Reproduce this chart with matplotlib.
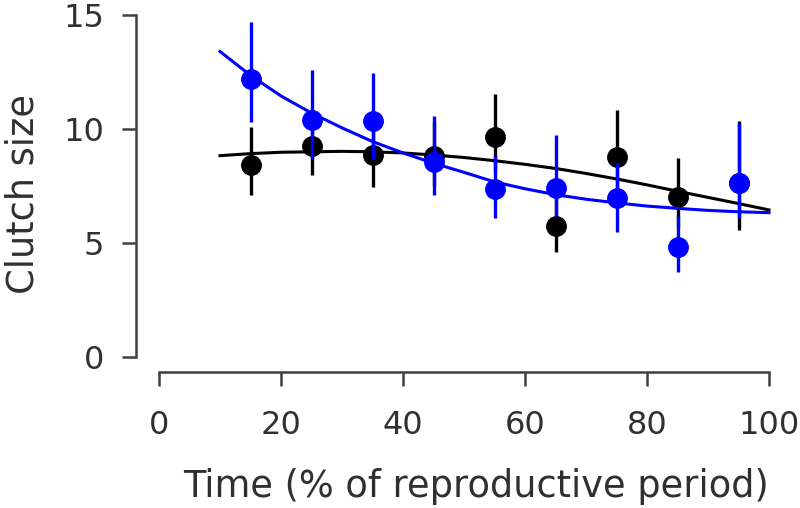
#!/usr/bin/env python3
"""Clutch size over the reproductive period: two groups with fitted curves."""

import matplotlib
matplotlib.use("Agg")
import matplotlib.pyplot as plt

# ── Data ─────────────────────────────────────────────────────────────────────
time_pts = [15, 25, 35, 45, 55, 65, 75, 85, 95]

black_mean = [8.4, 9.27, 8.86, 8.83, 9.66, 5.75, 8.76, 7.03, 7.65]
black_low = [7.1, 7.98, 7.47, 7.5, 8.1, 4.62, 7.2, 5.7, 5.57]
black_high = [10.1, 10.8, 10.5, 10.3, 11.52, 7.0, 10.83, 8.71, 10.35]

blue_mean = [12.2, 10.39, 10.37, 8.57, 7.35, 7.4, 6.96, 4.84, 7.62]
blue_low = [10.3, 8.7, 8.7, 7.1, 6.08, 6.2, 5.5, 3.74, 6.1]
blue_high = [14.7, 12.6, 12.47, 10.57, 8.8, 9.74, 8.5, 6.2, 10.28]

curve_x = [10, 15, 20, 25, 30, 35, 40, 45, 50, 55, 60, 65, 70, 75, 80, 85, 90, 95, 100]
black_curve = [8.83, 8.92, 8.98, 9.0, 9.02, 9.0, 8.95, 8.86, 8.75, 8.61, 8.45,
               8.27, 8.05, 7.81, 7.55, 7.27, 7.0, 6.73, 6.45]
blue_curve = [13.4, 12.35, 11.45, 10.7, 10.05, 9.45, 8.95, 8.5, 8.1, 7.68, 7.38,
              7.12, 6.92, 6.76, 6.62, 6.52, 6.43, 6.37, 6.33]

BLUE = "#0000ff"
AXIS_COL = "#404040"
TEXT_COL = "#303030"

plt.rcParams["font.family"] = ["DejaVu Sans"]

fig = plt.figure(figsize=(8, 5.08), dpi=100)
ax = fig.add_axes([159 / 800, 1 - 357 / 508, (769 - 159) / 800, (357 - 15) / 508])


def draw_group(mean, low, high, curve, color, z):
    err = [[m - lo for m, lo in zip(mean, low)], [hi - m for m, hi in zip(mean, high)]]
    ax.errorbar(time_pts, mean, yerr=err, fmt="o", color=color, ms=14,
                elinewidth=2.4, capsize=0, zorder=z, clip_on=False)
    ax.plot(curve_x, curve, color=color, lw=2.2, zorder=z + 0.5, clip_on=False)


draw_group(black_mean, black_low, black_high, black_curve, "black", 2)
draw_group(blue_mean, blue_low, blue_high, blue_curve, BLUE, 3)

ax.set_xlim(0, 100)
ax.set_ylim(0, 15)
ax.set_xticks([0, 20, 40, 60, 80, 100])
ax.set_yticks([0, 5, 10, 15])

for side in ("top", "right"):
    ax.spines[side].set_visible(False)
ax.spines["left"].set_position(("outward", 16.5))
ax.spines["bottom"].set_position(("outward", 11))
ax.spines["left"].set_bounds(0, 15)
ax.spines["bottom"].set_bounds(0, 100)
for side in ("left", "bottom"):
    ax.spines[side].set_color(AXIS_COL)
    ax.spines[side].set_linewidth(1.8)

ax.tick_params(direction="out", length=10, width=1.8, color=AXIS_COL,
               labelcolor=TEXT_COL, labelsize=23)
ax.tick_params(axis="y", pad=13)
ax.tick_params(axis="x", pad=17)

fig.text(4 / 800, 1 - 194 / 508, "Clutch size", rotation=90, ha="left",
         va="center", fontsize=26.5, color=TEXT_COL)
fig.text(476 / 800, 1 - 497 / 508, "Time (% of reproductive period)", ha="center",
         va="baseline", fontsize=26.5, color=TEXT_COL)

fig.savefig("out.png", dpi=100)
